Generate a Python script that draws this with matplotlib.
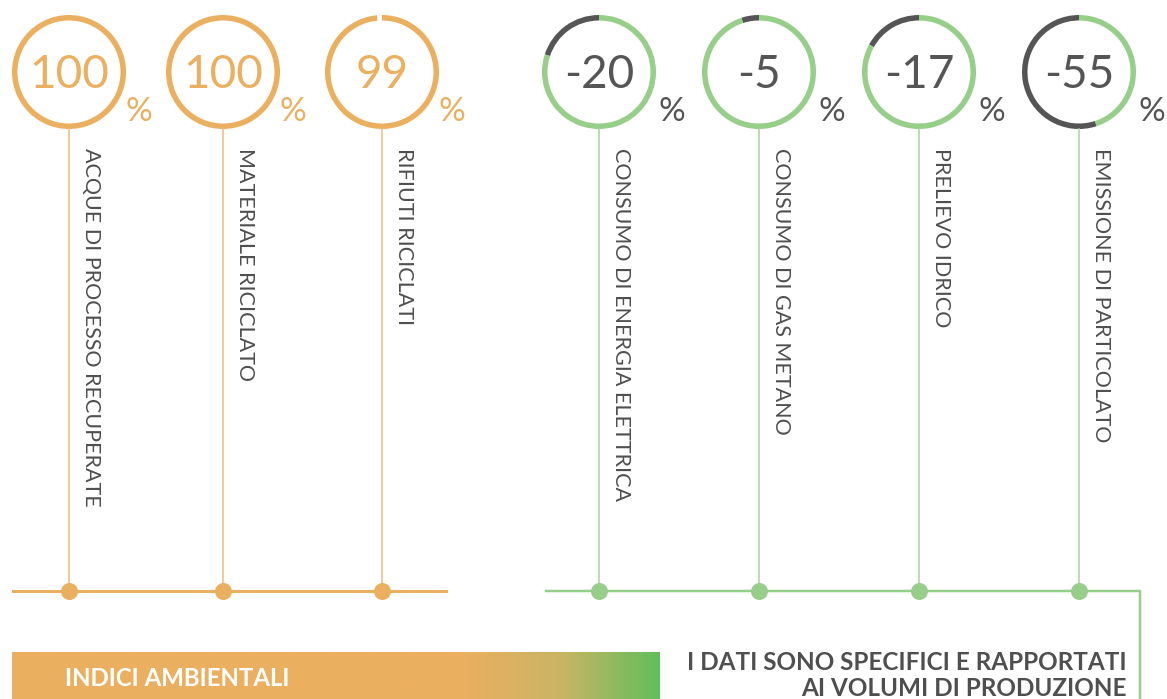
import matplotlib
matplotlib.use("Agg")
import matplotlib.pyplot as plt
import numpy as np
from matplotlib.patches import Wedge
from matplotlib.colors import LinearSegmentedColormap

# data
orange_labels = ['ACQUE DI PROCESSO RECUPERATE', 'MATERIALE RICICLATO', 'RIFIUTI RICICLATI']
orange_values = [100, 100, 99]
green_labels = ['CONSUMO DI ENERGIA ELETTRICA', 'CONSUMO DI GAS METANO',
                'PRELIEVO IDRICO', 'EMISSIONE DI PARTICOLATO']
green_values = [-20, -5, -17, -55]

title = 'INDICI AMBIENTALI'
note = ['I DATI SONO SPECIFICI E RAPPORTATI', 'AI VOLUMI DI PRODUZIONE']

ORANGE = '#EBAF60'
ORANGE_L = '#F0BF80'
GREEN = '#97CE8A'
GREEN_L = '#A9D89E'
DARK = '#555555'
TEXT = '#4f4f4f'

plt.rcParams['font.family'] = ['Lato', 'DejaVu Sans']

fig = plt.figure(figsize=(11.67, 6.99), dpi=100)
ax = fig.add_axes([0, 0, 1, 1])
ax.set_xlim(0, 1167)
ax.set_ylim(699, 0)
ax.axis('off')

cy = 72
r = 57
w = 5.5
base_y = 591
px = 0.72  # points per pixel

orange_x = [69, 223, 382]
green_x = [599, 759, 919, 1079]


def draw_item(x, label, line_col):
    ax.plot([x, x], [cy + r, base_y], color=line_col, lw=1.6 * px, zorder=1)
    ax.text(x + 22, 148, label, rotation=-90, ha='center', va='top',
            fontsize=15.5, color=TEXT)


for x, v, lab in zip(orange_x, orange_values, orange_labels):
    ax.add_patch(Wedge((x, cy), r, -90, -90 + 360 * v / 100 - (1.5 if v < 100 else 0),
                       width=w, color=ORANGE, lw=0))
    ax.text(x, cy + 3, str(v), ha='center', va='center', fontsize=33, color=ORANGE)
    ax.text(x + 70, 112, '%', ha='center', va='center', fontsize=24, color=ORANGE)
    draw_item(x, lab, ORANGE_L)

for x, v, lab in zip(green_x, green_values, green_labels):
    a = 360 * abs(v) / 100
    ax.add_patch(Wedge((x, cy), r, -90 - a, -90, width=w, color=DARK, lw=0))
    ax.add_patch(Wedge((x, cy), r, -90, 270 - a, width=w, color=GREEN, lw=0))
    ax.text(x, cy + 3, str(v), ha='center', va='center', fontsize=33, color=DARK)
    ax.text(x + 73, 112, '%', ha='center', va='center', fontsize=24, color=DARK)
    draw_item(x, lab, GREEN_L)

# baselines
ax.plot([13, 446], [base_y, base_y], color=ORANGE, lw=3 * px, zorder=2)
ax.scatter(orange_x, [base_y] * len(orange_x), s=150, color=ORANGE, zorder=3, lw=0)
ax.plot([546, 1140, 1140], [base_y, base_y, 699], color=GREEN, lw=2.5 * px, zorder=2)
ax.scatter(green_x, [base_y] * len(green_x), s=150, color=GREEN, zorder=3, lw=0)

# gradient banner
cmap = LinearSegmentedColormap.from_list('band', [(0, ORANGE), (0.7, ORANGE),
                                                  (0.85, '#C9B565'), (1, '#62BE5A')])
grad = np.linspace(0, 1, 512).reshape(1, -1)
ax.imshow(grad, cmap=cmap, aspect='auto', extent=[12, 660, 699, 652], zorder=1)
ax.set_xlim(0, 1167)
ax.set_ylim(699, 0)
ax.text(65, 678, title, ha='left', va='center', fontsize=17.3, color='white',
        fontweight='bold')

ax.text(1127, 662, note[0], ha='right', va='center', fontsize=17.5, color=TEXT,
        fontweight='bold')
ax.text(1127, 689, note[1], ha='right', va='center', fontsize=17.5, color=TEXT,
        fontweight='bold')

fig.savefig('out.png', dpi=100)
